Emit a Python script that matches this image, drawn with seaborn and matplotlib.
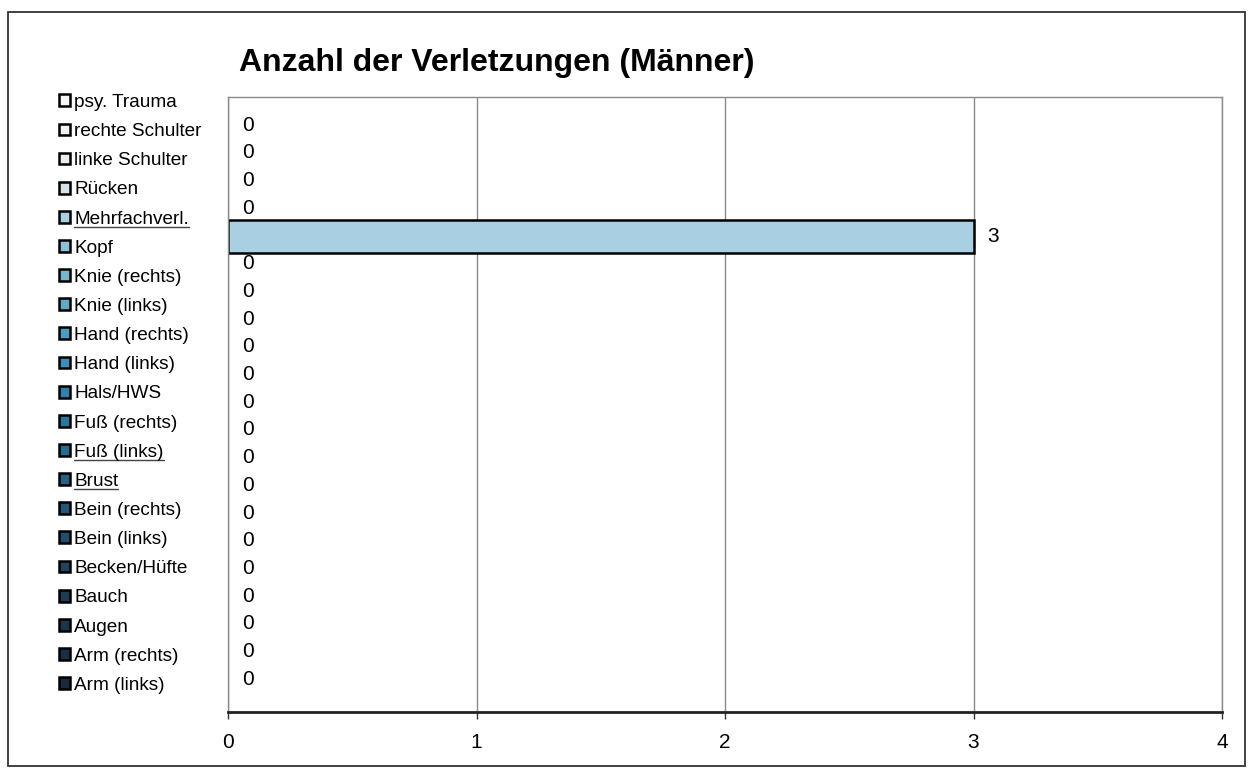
import seaborn as sns
import matplotlib.pyplot as plt
from matplotlib.patches import Patch, Rectangle
from matplotlib.lines import Line2D

# Kategorien (von oben nach unten, wie in der Legende)
categories = ['psy. Trauma', 'rechte Schulter', 'linke Schulter', 'Rücken', 'Mehrfachverl.',
              'Kopf', 'Knie (rechts)', 'Knie (links)', 'Hand (rechts)', 'Hand (links)',
              'Hals/HWS', 'Fuß (rechts)', 'Fuß (links)', 'Brust', 'Bein (rechts)',
              'Bein (links)', 'Becken/Hüfte', 'Bauch', 'Augen', 'Arm (rechts)', 'Arm (links)']
values = [0, 0, 0, 0, 3, 0, 0, 0, 0, 0, 0, 0, 0, 0, 0, 0, 0, 0, 0, 0, 0]
colors = ['#f6f6f6', '#f2f2f2', '#eaeef0', '#d6e4ea', '#a8d0e2',
          '#8cc0d8', '#78b4d0', '#64a8c8', '#4f9ac0', '#3f8cb6',
          '#3480aa', '#2e749c', '#2b6a90', '#286084', '#255678',
          '#234d6c', '#214460', '#1f3c55', '#1d354b', '#1b2f42', '#1a2a3a']
underlined = ['Mehrfachverl.', 'Fuß (links)', 'Brust']
x_ticks = [0, 1, 2, 3, 4]

sns.set_theme(style='white')
plt.rcParams['font.family'] = ['Liberation Sans', 'DejaVu Sans']
plt.rcParams['text.color'] = 'black'
plt.rcParams['xtick.color'] = 'black'

fig = plt.figure(figsize=(12.5, 7.72), dpi=100)
ax = fig.add_axes([228 / 1250, 1 - 712 / 772, (1222 - 228) / 1250, (712 - 97) / 772])

sns.barplot(x=values, y=categories, hue=categories, palette=colors, legend=False,
            orient='h', width=1.19, saturation=1, edgecolor='black', linewidth=1.8, ax=ax)

# Balken mit Wert 0 ohne Rahmen
for p in ax.patches:
    if p.get_width() == 0:
        p.set_linewidth(0)

for c in ax.containers:
    ax.bar_label(c, fmt='%d', padding=10, fontsize=15, color='black')

ax.set_xlim(0, 4)
ax.set_ylim(21.18, -1.02)
ax.set_xticks(x_ticks)
ax.set_xticklabels([str(t) for t in x_ticks], fontsize=15)
ax.set_yticks([])
ax.set_xlabel('')
ax.set_ylabel('')
ax.xaxis.grid(True, color='#8a8a8a', linewidth=1)
ax.set_axisbelow(True)
ax.tick_params(axis='x', bottom=True, length=5, width=1, color='#333333', pad=10)
for side in ['top', 'right', 'left']:
    ax.spines[side].set_color('#8a8a8a')
    ax.spines[side].set_linewidth(1)
ax.spines['bottom'].set_color('#222222')
ax.spines['bottom'].set_linewidth(2)

fig.text(497 / 1250, 1 - 63 / 772, 'Anzahl der Verletzungen (Männer)',
         ha='center', va='center', fontsize=23, fontweight='bold')

handles = [Patch(facecolor=col, edgecolor='black', linewidth=1.8) for col in colors]
leg = fig.legend(handles, categories, loc='upper left', bbox_to_anchor=(59 / 1250, 1 - 94 / 772),
                 frameon=False, fontsize=13.7, handlelength=0.58, handleheight=0.58,
                 handletextpad=0.22, labelspacing=0.638, borderaxespad=0, borderpad=0)

# Rahmen um das ganze Diagramm
fig.add_artist(Rectangle((8 / 1250, 1 - 766 / 772), (1245 - 8) / 1250, (766 - 12) / 772,
                         transform=fig.transFigure, fill=False, edgecolor='#333333', linewidth=1.3))

# Unterstreichungen wie im Original
fig.canvas.draw()
for t in leg.get_texts():
    if t.get_text() in underlined:
        bb = t.get_window_extent()
        y = (bb.y0 + 1) / 772
        fig.add_artist(Line2D([bb.x0 / 1250, bb.x1 / 1250], [y, y],
                              transform=fig.transFigure, color='#444444', linewidth=1))

fig.savefig('out.png', dpi=100)
